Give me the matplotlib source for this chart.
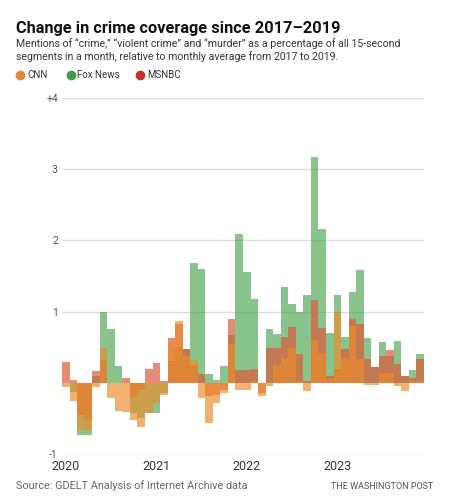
import matplotlib.pyplot as plt
from matplotlib.lines import Line2D
import numpy as np

plt.rcParams['font.family'] = ['Roboto', 'DejaVu Sans']

# monthly values, Jan 2020 .. Dec 2023, relative to 2017-2019 monthly average
cnn = [-0.06, -0.25, -0.66, -0.68, -0.06, 0.49, -0.21, -0.40, -0.41, -0.52, -0.62, -0.43,
       -0.29, -0.17, 0.56, 0.87, 0.38, 0.32, -0.22, -0.57, -0.28, -0.15, 0.55, -0.10,
       -0.10, 0.02, -0.19, -0.04, 0.25, 0.35, 0.49, 0.02, -0.12, 0.60, 0.42, 0.05,
       1.00, 0.33, 0.80, 0.33, -0.03, -0.03, 0.14, 0.14, -0.05, -0.12, 0.03, 0.02]
fox = [0.00, -0.13, -0.73, -0.73, 0.09, 1.00, 0.76, 0.24, 0.00, -0.43, -0.50, -0.43,
       -0.42, -0.15, 0.30, 0.50, 0.47, 1.68, 1.60, 0.13, 0.04, 0.24, 0.67, 2.09,
       1.56, 1.17, 0.00, 0.75, 0.68, 1.34, 1.11, 0.99, 1.23, 3.17, 2.16, 0.70,
       1.23, 0.64, 1.28, 1.58, 0.63, 0.22, 0.57, 0.37, 0.59, 0.09, 0.18, 0.40]
msnbc = [0.29, 0.04, -0.45, -0.52, 0.17, 0.32, 0.00, 0.00, 0.07, -0.20, -0.10, 0.20,
         0.28, 0.02, 0.63, 0.83, 0.47, 0.25, 0.13, -0.19, -0.17, -0.10, 0.90, 0.18,
         0.18, 0.20, -0.15, 0.49, 0.49, 0.65, 0.79, 0.40, 0.02, 1.16, 0.77, 0.09,
         0.19, 0.48, 0.89, 0.83, 0.33, 0.22, 0.37, 0.46, 0.26, 0.09, 0.07, 0.34]

years = ['2020', '2021', '2022', '2023']
yticks = [-1, 1, 2, 3, 4]
ylabels = ['-1', '1', '2', '3', '+4']

c_cnn = '#ec8c2d'
c_fox = '#42a048'
c_msnbc = '#dc5a3a'

W, H = 474, 500
fig = plt.figure(figsize=(W / 100, H / 100), dpi=100)


def fx(px):
    return px / W


def fy(py):
    return 1 - py / H


ax = fig.add_axes([fx(62), fy(454), fx(424) - fx(62), fy(98) - fy(454)])

x = np.arange(len(cnn))
ax.bar(x, fox, width=1, align='edge', color=c_fox, alpha=0.62, lw=0, zorder=2)
ax.bar(x, msnbc, width=1, align='edge', color=c_msnbc, alpha=0.7, lw=0, zorder=3)
ax.bar(x, cnn, width=1, align='edge', color=c_cnn, alpha=0.68, lw=0, zorder=4)

ax.set_xlim(0, len(cnn))
ax.set_ylim(-1, 4)
for v in yticks:
    ax.axhline(v, color='#dddddd', lw=1, zorder=1)
ax.set_yticks(yticks)
ax.set_yticklabels(ylabels, fontsize=7.5, color='#555555')
ax.set_xticks([0.5, 12.5, 24.5, 36.5])
ax.set_xticklabels(years, fontsize=9, color='#333333')
ax.tick_params(length=0)
ax.tick_params(axis='y', pad=3)
ax.tick_params(axis='x', pad=4)
for s in ax.spines.values():
    s.set_visible(False)

fig.text(fx(16), fy(32.5), 'Change in crime coverage since 2017\u20132019',
         fontsize=11.8, fontweight='bold', color='#111111', va='baseline')
fig.text(fx(16), fy(46.7), 'Mentions of \u201ccrime,\u201d \u201cviolent crime\u201d and \u201cmurder\u201d '
         'as a percentage of all 15-second', fontsize=7.6, color='#333333', va='baseline')
fig.text(fx(16), fy(60), 'segments in a month, relative to monthly average from 2017 to 2019.',
         fontsize=7.6, color='#333333', va='baseline')

legend = [('CNN', '#e0893a', 20, 27), ('Fox News', '#3f9d4a', 71, 77), ('MSNBC', '#c6302c', 140, 147)]
for name, col, dx, tx in legend:
    fig.add_artist(Line2D([fx(dx)], [fy(74.5)], marker='o', markersize=6, color=col,
                          lw=0, transform=fig.transFigure))
    fig.text(fx(tx), fy(77.7), name, fontsize=7, color='#333333', va='baseline')

fig.text(fx(16), fy(489), 'Source: GDELT Analysis of Internet Archive data',
         fontsize=7.8, color='#666666', va='baseline')
fig.text(fx(433), fy(488.7), 'THE WASHINGTON POST', fontsize=6.5, color='#555555',
         va='baseline', ha='right')

fig.savefig('out.png', dpi=100)
